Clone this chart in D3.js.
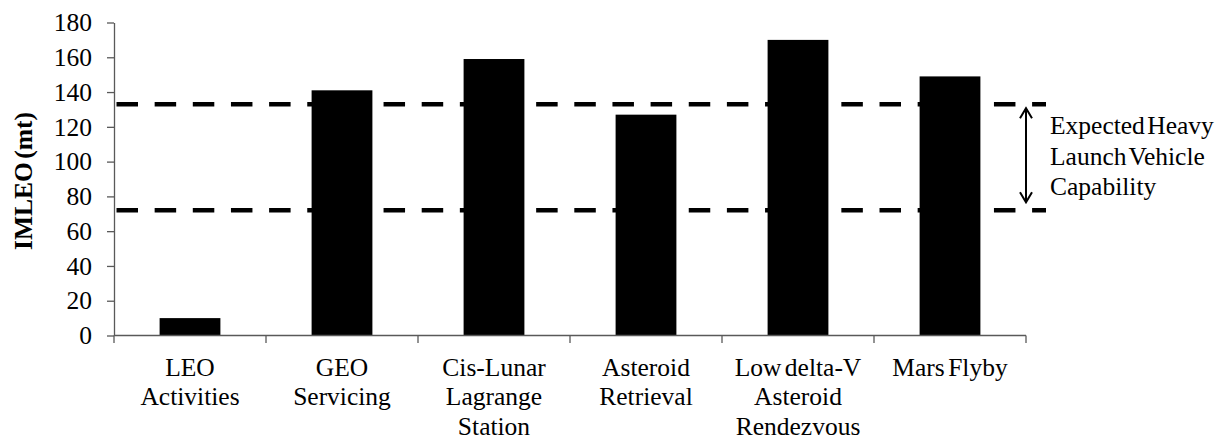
<!DOCTYPE html>
<html>
<head>
<meta charset="utf-8">
<script src="https://cdn.jsdelivr.net/npm/d3@7"></script>
<style>
  body { margin: 0; background: #fff; }
</style>
</head>
<body>
<div id="chart"></div>
<script>
// data
const categories = ["LEO Activities", "GEO Servicing", "Cis-Lunar Lagrange Station",
    "Asteroid Retrieval", "Low delta-V Asteroid Rendezvous", "Mars Flyby"];
const categoryLines = [["LEO", "Activities"], ["GEO", "Servicing"], ["Cis-Lunar", "Lagrange", "Station"],
    ["Asteroid", "Retrieval"], ["Low delta-V", "Asteroid", "Rendezvous"], ["Mars Flyby"]];
const imleo = [10, 141, 159, 127, 170, 149];
const capability = [72, 133];   // expected heavy launch vehicle range (mt)
const capabilityLines = ["Expected Heavy", "Launch Vehicle", "Capability"];
const yTicks = [0, 20, 40, 60, 80, 100, 120, 140, 160, 180];

const width = 1228;
const height = 438;
const margin = {t: 22.5, b: 102.5, l: 114, r: 202};
const font = "'Times New Roman', Tinos, 'Liberation Serif', serif";
const fontSize = 25.5;
const axisColor = "#595959";

const svg = d3.select("#chart")
    .append("svg")
    .attr("width", width)
    .attr("height", height)
    .style("font-family", font)
    .attr("viewBox", [0, 0, width, height]);

// multi-line text
function label(x, y, lines, lineHeight, anchor, wordSpacing) {
    const t = svg.append("text")
        .attr("x", x)
        .attr("y", y)
        .attr("text-anchor", anchor)
        .style("font-family", font)
        .style("font-size", fontSize + "px")
        .style("word-spacing", wordSpacing + "px")
        .attr("fill", "black");
    lines.forEach((line, j) => {
        t.append("tspan")
            .attr("x", x)
            .attr("dy", j === 0 ? 0 : lineHeight)
            .text(line);
    });
    return t;
}

//Scales
const xScale = d3.scaleBand()
    .domain(categories)
    .range([margin.l, width - margin.r])
    .paddingInner(0.6)
    .paddingOuter(0.3);

const yScale = d3.scaleLinear()
    .domain([0, 180])
    .range([height - margin.b, margin.t]);

//Y Axis
const yAxis = d3.axisLeft(yScale)
    .tickValues(yTicks)
    .tickSizeInner(7)
    .tickSizeOuter(0)
    .tickPadding(15);
const yG = svg.append("g")
    .attr("class", "yAxis")
    .attr("transform", `translate(${margin.l}, 0)`)
    .call(yAxis)
    .attr("font-family", null)
    .attr("font-size", null);
yG.selectAll("path, line").attr("stroke", axisColor).attr("stroke-width", 1.3);
yG.selectAll(".tick text")
    .style("font-family", font)
    .style("font-size", fontSize + "px")
    .attr("fill", "black");

//Y label
svg.append("text")
    .attr("transform", `translate(32, ${(yScale(0) + yScale(180)) / 2 + 2}) rotate(-90)`)
    .attr("text-anchor", "middle")
    .style("font-family", font)
    .style("font-weight", "bold")
    .style("font-size", fontSize + "px")
    .style("word-spacing", "-3px")
    .text("IMLEO (mt)");

//Bars
svg.selectAll("rect.bar")
    .data(categories)
    .enter()
    .append("rect")
    .attr("class", "bar")
    .attr("x", d => xScale(d))
    .attr("y", (d, i) => yScale(imleo[i]))
    .attr("width", xScale.bandwidth())
    .attr("height", (d, i) => yScale(0) - yScale(imleo[i]))
    .attr("fill", "black");

//X Axis (ticks sit between categories)
const x0 = xScale.range()[0];
const step = xScale.step();
const y0 = yScale(0);
svg.append("line")
    .attr("x1", x0).attr("x2", x0 + step * categories.length)
    .attr("y1", y0).attr("y2", y0)
    .attr("stroke", axisColor).attr("stroke-width", 1.3);
d3.range(categories.length + 1).forEach(i => {
    svg.append("line")
        .attr("x1", x0 + i * step).attr("x2", x0 + i * step)
        .attr("y1", y0).attr("y2", y0 + 7.5)
        .attr("stroke", axisColor).attr("stroke-width", 1.3);
});

//Category labels
categories.forEach((c, i) => {
    label(xScale(c) + xScale.bandwidth() / 2, y0 + 40, categoryLines[i], 29.5, "middle", -3);
});

//Capability dashed lines
const lineEnd = 1046;
capability.forEach(v => {
    svg.append("line")
        .attr("x1", margin.l + 2.5).attr("x2", lineEnd)
        .attr("y1", yScale(v)).attr("y2", yScale(v))
        .attr("stroke", "black")
        .attr("stroke-width", 4.6)
        .attr("stroke-dasharray", "21.5,16.65");
});

//Double arrow
const ax = 1026;
const aTop = yScale(capability[1]) + 4;
const aBot = yScale(capability[0]) - 8;
svg.append("path")
    .attr("d", `M${ax},${aTop}V${aBot}` +
        `M${ax - 6},${aTop + 10}L${ax},${aTop}L${ax + 6},${aTop + 10}` +
        `M${ax - 6},${aBot - 10}L${ax},${aBot}L${ax + 6},${aBot - 10}`)
    .attr("fill", "none")
    .attr("stroke", "black")
    .attr("stroke-width", 2);

//Annotation
label(1050, 134.3, capabilityLines, 30.5, "start", -4);
</script>
</body>
</html>
